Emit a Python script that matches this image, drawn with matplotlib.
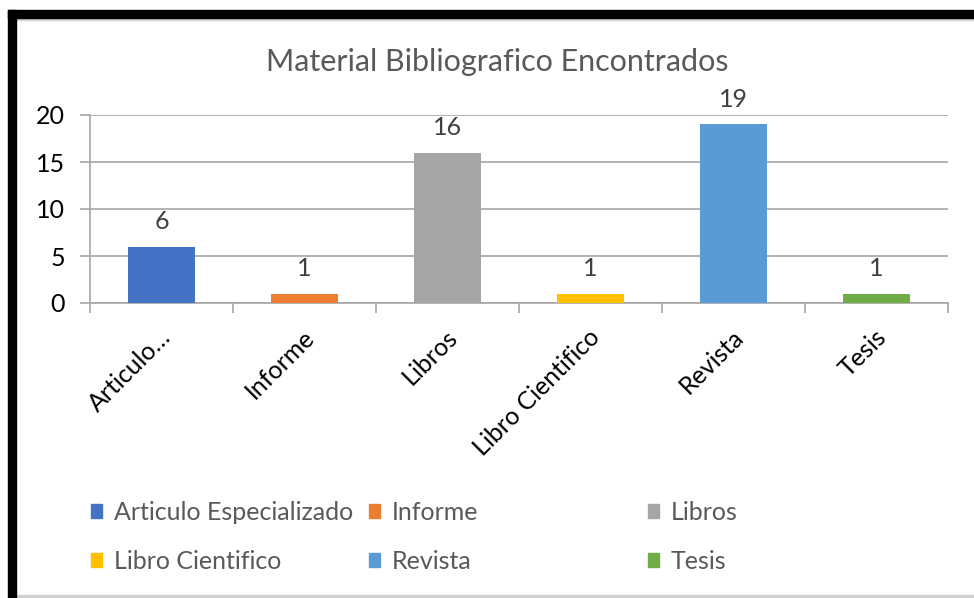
import matplotlib
matplotlib.use("Agg")
import matplotlib.pyplot as plt
import matplotlib.transforms as mtransforms
from matplotlib.patches import Rectangle, Patch

plt.rcParams['font.family'] = ['Lato', 'DejaVu Sans']

categories = ["Articulo Especializado", "Informe", "Libros", "Libro Cientifico", "Revista", "Tesis"]
tick_labels = ["Articulo…", "Informe", "Libros", "Libro Cientifico", "Revista", "Tesis"]
values = [6, 1, 16, 1, 19, 1]
colors = ["#4472C4", "#ED7D31", "#A5A5A5", "#FFC000", "#5B9BD5", "#70AD47"]
yticks = [0, 5, 10, 15, 20]
title = "Material Bibliografico Encontrados"

W, H = 974, 598
fig = plt.figure(figsize=(W / 100, H / 100), dpi=100)
fig.patch.set_facecolor("white")

# frame decorations
fig.patches.append(Rectangle((8 / W, 0), 8 / W, 1 - 10 / H, transform=fig.transFigure,
                             color="black", zorder=10))
fig.patches.append(Rectangle((8 / W, 1 - 18 / H), 1, 8 / H, transform=fig.transFigure,
                             color="black", zorder=10))
fig.patches.append(Rectangle((16 / W, 1 - 20 / H), 1, 2 / H, transform=fig.transFigure,
                             color="#D0D0D0", zorder=9))
fig.patches.append(Rectangle((16 / W, 0), 1, 3 / H, transform=fig.transFigure,
                             color="#D0D0D0", zorder=9))

ax = fig.add_axes([90 / W, 1 - 303 / H, (948 - 90) / W, (303 - 115) / H])
x = list(range(len(categories)))
bars = ax.bar(x, values, width=0.475, color=colors, zorder=3)
ax.bar_label(bars, labels=[str(v) for v in values], padding=10, fontsize=18, color="#404040")

ax.set_xlim(-0.5, len(categories) - 0.5)
ax.set_ylim(0, 20)
ax.set_yticks(yticks)
ax.set_yticklabels([str(t) for t in yticks], fontsize=18, color="black")
ax.yaxis.grid(True, color="#A6A6A6", linewidth=1.2, zorder=0)
ax.tick_params(axis="y", length=7.2, color="#A6A6A6", width=1.2, pad=11)

# category ticks at boundaries
ax.set_xticks([i - 0.5 for i in range(len(categories) + 1)], minor=False)
ax.set_xticklabels([""] * (len(categories) + 1))
ax.tick_params(axis="x", length=7.2, color="#A6A6A6", width=1.2)
ax.set_xticks(x, minor=True)
ax.set_xticklabels(tick_labels, minor=True, rotation=45, ha="right", va="center",
                   rotation_mode="anchor", fontsize=18, color="black")
ax.tick_params(axis="x", which="minor", length=0, pad=22)
offset = mtransforms.ScaledTranslation(6 / 100, 0, fig.dpi_scale_trans)
for lab in ax.get_xticklabels(minor=True):
    lab.set_transform(lab.get_transform() + offset)

for s in ["top", "right"]:
    ax.spines[s].set_visible(False)
ax.spines["left"].set_color("#A6A6A6")
ax.spines["bottom"].set_color("#A6A6A6")
ax.spines["left"].set_linewidth(1.2)
ax.spines["bottom"].set_linewidth(1.2)

fig.text(497 / W, 1 - 62 / H, title, ha="center", va="center", fontsize=22, color="#595959")

# legend in three columns placed like the reference
col_x = [91, 369, 648]
order = [[0, 3], [1, 4], [2, 5]]
for cx, idxs in zip(col_x, order):
    handles = [Patch(color=colors[i]) for i in idxs]
    labels = [categories[i] for i in idxs]
    leg = fig.legend(handles, labels, loc="upper left",
                     bbox_to_anchor=(cx / W, 1 - 501 / H), frameon=False,
                     fontsize=18, handlelength=0.45, handleheight=0.45,
                     handletextpad=0.45, labelspacing=1.03, borderpad=0, borderaxespad=0)
    for t in leg.get_texts():
        t.set_color("#595959")

fig.savefig("out.png", dpi=100, facecolor="white")
